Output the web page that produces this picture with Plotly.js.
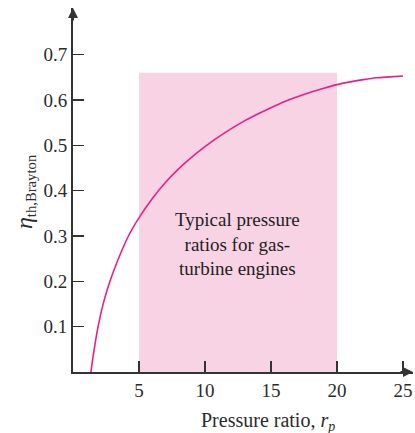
<!DOCTYPE html>
<html>
<head>
<meta charset="utf-8">
<script src="https://cdn.plot.ly/plotly-3.0.1.min.js"></script>
<style>html,body{margin:0;padding:0;background:#fff;}#chart{width:415px;height:433px;}</style>
</head>
<body>
<div id="chart"></div>
<script>
// Data
const pressureRatio = [1.36, 1.5, 1.9, 2.3, 2.8, 3.4, 4.2, 5, 6, 7, 8, 9, 10, 11, 12, 13, 14, 15, 16, 17, 18, 19, 20, 21, 22, 23, 24, 25];
const efficiency    = [0.0, 0.03, 0.10, 0.152, 0.20, 0.247, 0.30, 0.340, 0.382, 0.418, 0.448, 0.474, 0.497, 0.518, 0.537, 0.554, 0.569, 0.583, 0.596, 0.607, 0.617, 0.626, 0.634, 0.640, 0.645, 0.649, 0.651, 0.653];
const typicalRange = [5, 20];
const typicalTop = 0.66;
const xTicks = [5, 10, 15, 20, 25];
const yTicks = [0.1, 0.2, 0.3, 0.4, 0.5, 0.6, 0.7];
const yTickLabels = ['0.1', '0.2', '0.3', '0.4', '0.5', '0.6', '0.7'];
const boxText = 'Typical pressure<br>ratios for gas-<br>turbine engines';

const serif = '"Liberation Serif", "Times New Roman", serif';
const ink = '#2b2b2b';

const trace = {
  x: pressureRatio, y: efficiency, type: 'scatter', mode: 'lines',
  line: {color: '#e6208a', width: 1.6, shape: 'spline', smoothing: 0.8},
  hoverinfo: 'skip', cliponaxis: false
};

const layout = {
  width: 415, height: 433,
  margin: {l: 73, r: 2, t: 8, b: 61},
  paper_bgcolor: '#fff', plot_bgcolor: '#fff',
  showlegend: false,
  font: {family: serif, color: ink, size: 19},
  xaxis: {
    range: [0, 25.76], showgrid: false, zeroline: false,
    showline: true, linecolor: '#333', linewidth: 2,
    tickmode: 'array', tickvals: xTicks, ticktext: xTicks.map(String),
    ticks: 'inside', ticklen: 11, tickwidth: 1.5, tickcolor: '#333',
    tickfont: {family: serif, size: 19, color: ink}
  },
  yaxis: {
    range: [0, 0.803], showgrid: false, zeroline: false,
    showline: true, linecolor: '#333', linewidth: 2,
    tickmode: 'array', tickvals: yTicks, ticktext: yTickLabels,
    ticks: 'inside', ticklen: 11, tickwidth: 1.5, tickcolor: '#333',
    tickfont: {family: serif, size: 19, color: ink}
  },
  shapes: [{
    type: 'rect', xref: 'x', yref: 'y', layer: 'below',
    x0: typicalRange[0], x1: typicalRange[1], y0: 0, y1: typicalTop,
    fillcolor: '#f8d3e3', line: {width: 0}
  }],
  annotations: [
    {xref: 'x', yref: 'y', x: (typicalRange[0] + typicalRange[1]) / 2, y: 0.282,
     text: boxText, showarrow: false, align: 'center',
     font: {family: serif, size: 19, color: '#1e1e1e'}},
    {xref: 'x', yref: 'paper', x: 14.77, y: -0.135, yanchor: 'middle',
     text: 'Pressure ratio, <i>r<sub>p</sub></i>', showarrow: false,
     font: {family: serif, size: 20, color: ink}},
    {xref: 'paper', yref: 'y', x: -0.141, y: 0.397, xanchor: 'center', yanchor: 'middle',
     text: '<i><span style="font-size:24px">η</span></i><sub>th,Brayton</sub>', textangle: -90, showarrow: false,
     font: {family: serif, size: 21, color: ink}},
    // axis arrowheads
    {xref: 'paper', yref: 'paper', x: 0, y: 1, ax: 0, ay: 14, axref: 'pixel', ayref: 'pixel',
     showarrow: true, arrowhead: 2, arrowsize: 1, arrowwidth: 2, arrowcolor: '#333', text: ''},
    {xref: 'paper', yref: 'paper', x: 1, y: 0, ax: -14, ay: 0, axref: 'pixel', ayref: 'pixel',
     showarrow: true, arrowhead: 2, arrowsize: 1, arrowwidth: 2, arrowcolor: '#333', text: ''}
  ]
};

Plotly.newPlot('chart', [trace], layout, {staticPlot: true, displayModeBar: false});
</script>
</body>
</html>
